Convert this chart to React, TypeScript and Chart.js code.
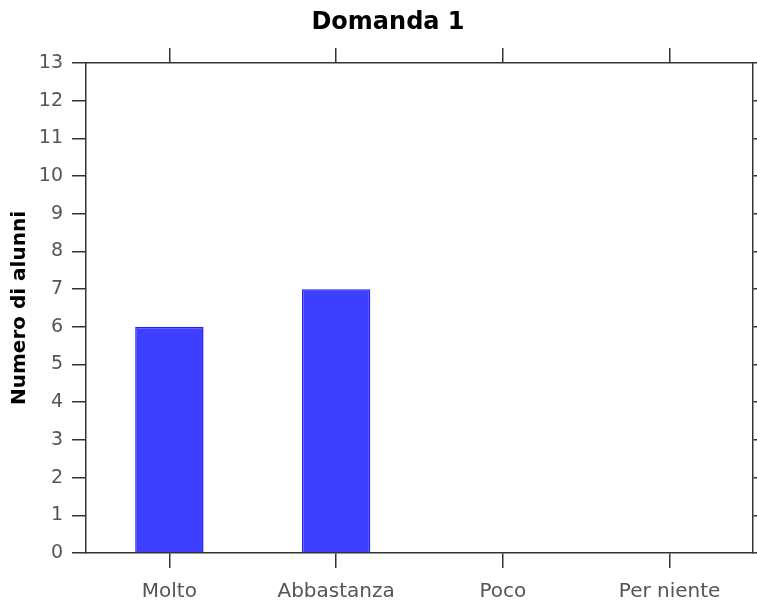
import React, { useEffect, useRef } from "react";
import { Chart, registerables } from "chart.js";

Chart.register(...registerables);

const categories = ["Molto", "Abbastanza", "Poco", "Per niente"];
const values = [6, 7, 0, 0];
const yMin = 0;
const yMax = 13;
const chartTitle = "Domanda 1";
const yTitle = "Numero di alunni";

const W = 757;
const H = 601;
const AXIS = "#333333";
const FONT = "'DejaVu Sans', sans-serif";

const titlePlugin = {
  id: "offsetTitle",
  afterDraw(chart: any) {
    const ctx = chart.ctx;
    ctx.save();
    ctx.font = `bold 24px ${FONT}`;
    ctx.fillStyle = "#000";
    ctx.textAlign = "center";
    ctx.textBaseline = "middle";
    ctx.fillText(chartTitle, 388, 23);
    ctx.restore();
  },
};

export default function App() {
  const ref = useRef<HTMLCanvasElement | null>(null);

  useEffect(() => {
    const canvas = ref.current;
    if (!canvas) return;
    const gridBase = {
      drawOnChartArea: false,
      drawTicks: true,
      color: AXIS,
      tickColor: AXIS,
      lineWidth: 1.5,
    };
    const chart = new Chart(canvas, {
      type: "bar",
      data: {
        labels: categories,
        datasets: [
          {
            data: values,
            backgroundColor: "#3f3fff",
            borderColor: "#2222ff",
            borderWidth: (c: any) => (c.raw > 0 ? 1.5 : 0),
            barPercentage: 0.41,
            categoryPercentage: 1,
            xAxisID: "x",
            yAxisID: "y",
          },
        ],
      },
      options: {
        responsive: false,
        animation: false,
        maintainAspectRatio: false,
        layout: { padding: { top: 48, left: 0, right: 0, bottom: 0 } },
        plugins: {
          legend: { display: false },
          tooltip: { enabled: false },
          title: { display: false },
        },
        scales: {
          x: {
            type: "category",
            position: "bottom",
            offset: true,
            grid: { ...gridBase, offset: false, tickLength: 15 },
            border: { display: true, color: AXIS, width: 1.5 },
            ticks: {
              color: "#555",
              font: { family: FONT, size: 20 },
              padding: 12,
              maxRotation: 0,
              autoSkip: false,
            },
            afterFit: (s: any) => {
              s.height = 48;
            },
          },
          x2: {
            type: "category",
            position: "top",
            labels: categories,
            offset: true,
            grid: { ...gridBase, offset: false, tickLength: 15 },
            border: { display: true, color: AXIS, width: 1.5 },
            ticks: { display: false },
            afterFit: (s: any) => {
              s.height = 15;
            },
          },
          y: {
            type: "linear",
            position: "left",
            min: yMin,
            max: yMax,
            grid: { ...gridBase, tickLength: 14 },
            border: { display: true, color: AXIS, width: 1.5 },
            ticks: {
              stepSize: 1,
              color: "#555",
              font: { family: FONT, size: 19 },
              padding: 9,
            },
            title: {
              display: true,
              text: yTitle,
              color: "#000",
              font: { family: FONT, size: 20, weight: "bold" },
              padding: { top: 8, bottom: 0 },
            },
            afterFit: (s: any) => {
              s.width = 86;
            },
          },
          y2: {
            type: "linear",
            position: "right",
            min: yMin,
            max: yMax,
            grid: { ...gridBase, tickLength: 14 },
            border: { display: true, color: AXIS, width: 1.5 },
            ticks: { display: false, stepSize: 1 },
            afterFit: (s: any) => {
              s.width = 4;
            },
          },
        },
      },
      plugins: [titlePlugin],
    } as any);
    return () => chart.destroy();
  }, []);

  return (
    <div style={{ position: "fixed", left: 0, top: 0, width: W, height: H, background: "#fff" }}>
      <canvas ref={ref} width={W} height={H} style={{ display: "block" }} />
    </div>
  );
}
